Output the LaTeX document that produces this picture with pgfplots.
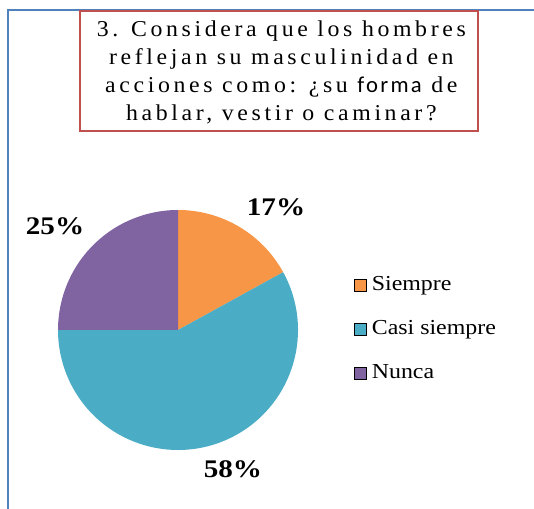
\documentclass[border=0pt]{standalone}
\usepackage{fontspec}
\setmainfont{Liberation Serif}
\newfontfamily\cambria[FakeStretch=1.12]{Liberation Serif}
\newfontfamily\labelfont[FakeStretch=1.15]{Liberation Serif}
\newfontfamily\titlefont[FakeStretch=1.05,LetterSpace=16]{Liberation Serif}
\newfontfamily\calibri[LetterSpace=10]{Carlito}
\usepackage{pgfplots}
\usepackage{pgfplotstable}
\pgfplotsset{compat=1.18}

\definecolor{siempre}{HTML}{F79646}
\definecolor{casi}{HTML}{4BACC6}
\definecolor{nunca}{HTML}{8064A2}
\definecolor{frameblue}{HTML}{4F81BD}
\definecolor{framered}{HTML}{C0504D}

% answers, percent
\pgfplotstableread{
label value
Siempre 17
Casi 58
Nunca 25
}\piedata
\pgfplotstablegetelem{0}{value}\of\piedata \let\vA\pgfplotsretval
\pgfplotstablegetelem{1}{value}\of\piedata \let\vB\pgfplotsretval
\pgfplotstablegetelem{2}{value}\of\piedata \let\vC\pgfplotsretval
\pgfmathsetmacro\aA{90}
\pgfmathsetmacro\aB{\aA-3.6*\vA}
\pgfmathsetmacro\aC{\aB-3.6*\vB}
\pgfmathsetmacro\aD{\aC-3.6*\vC}

\begin{document}
\begin{tikzpicture}
\useasboundingbox (0,0) rectangle (400.5pt,381.75pt);
% outer chart frame (cut off right and bottom)
\draw[frameblue, line width=1.5pt] (6pt,-10pt) -- (6pt,374.25pt) -- (420pt,374.25pt);
% title box
\draw[framered, line width=1.5pt, fill=white] (60pt,283.5pt) rectangle (358.5pt,373.5pt);
\node[align=center, font=\titlefont\fontsize{17}{21}\selectfont] at (211pt,327.75pt)
  {3. Considera que los hombres\\reflejan su masculinidad en\\acciones como: ¿su {\calibri forma} de\\hablar, vestir o caminar?};

\begin{axis}[
    at={(133.5pt,134.25pt)}, anchor=center,
    hide axis,
    x=90pt, y=90pt,
    xmin=-1.5, xmax=1.5, ymin=-1.5, ymax=1.5,
    legend image code/.code={\fill[#1] (0pt,-4pt) rectangle (9pt,5pt);},
    legend cell align=left,
    legend style={at={(axis cs:1.467,0)}, anchor=west, draw=none, fill=none,
        inner sep=0pt, row sep=18pt,
        font=\cambria\fontsize{16}{19}\selectfont,
        nodes={inner sep=0pt, text height=11pt, text depth=4pt},
        /tikz/every odd column/.append style={column sep=3.75pt}},
]
\fill[siempre] (axis cs:0,0) -- (axis cs:{cos(\aA)},{sin(\aA)}) arc[start angle=\aA, end angle=\aB, radius=90pt] -- cycle;
\fill[casi] (axis cs:0,0) -- (axis cs:{cos(\aB)},{sin(\aB)}) arc[start angle=\aB, end angle=\aC, radius=90pt] -- cycle;
\fill[nunca] (axis cs:0,0) -- (axis cs:{cos(\aC)},{sin(\aC)}) arc[start angle=\aC, end angle=\aD, radius=90pt] -- cycle;

\addlegendimage{fill=siempre}
\addlegendentry{Siempre}
\addlegendimage{fill=casi}
\addlegendentry{Casi siempre}
\addlegendimage{fill=nunca}
\addlegendentry{Nunca}

\node[font=\labelfont\bfseries\fontsize{19}{20}\selectfont] at (axis cs:0.817,1.025) {\vA\%};
\node[font=\labelfont\bfseries\fontsize{19}{20}\selectfont] at (axis cs:-1.025,0.867) {\vC\%};
\node[font=\labelfont\bfseries\fontsize{19}{20}\selectfont] at (axis cs:0.458,-1.158) {\vB\%};
\end{axis}
\end{tikzpicture}
\end{document}
